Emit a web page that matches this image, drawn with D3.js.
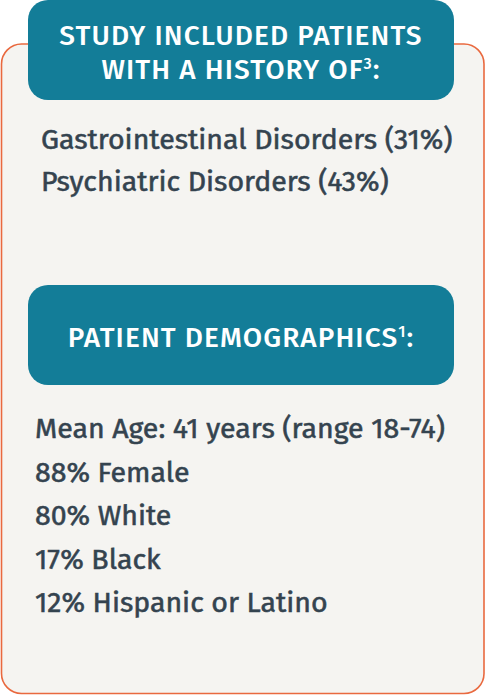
<!DOCTYPE html>
<html>
<head>
<meta charset="utf-8">
<script src="https://cdn.jsdelivr.net/npm/d3@7"></script>
<style>
  body { margin: 0; background: #ffffff; }
  svg { display: block; }
  text { font-family: "Fira Sans", Roboto, "Noto Sans", sans-serif; }
</style>
</head>
<body>
<svg id="card"></svg>
<script>
// data
const historyTitle = ['STUDY INCLUDED PATIENTS', 'WITH A HISTORY OF'];
const historyRef = '3';
const historyLabels = ['Gastrointestinal Disorders', 'Psychiatric Disorders'];
const historyPct = [31, 43];

const demoTitle = 'PATIENT DEMOGRAPHICS';
const demoRef = '1';
const meanAge = 41;
const ageRange = [18, 74];
const demoLabels = ['Female', 'White', 'Black', 'Hispanic or Latino'];
const demoPct = [88, 80, 17, 12];

var cardVars = {
    width: 489,
    height: 695,
    teal: '#137d98',
    orange: '#e9693f',
    panel: '#f5f4f1',
    ink: '#34434f',
    headSize: 28,
    headSpacing: 1.1,
    bodySize: 28.5
};

var svg = d3.select('#card')
    .attr('width', cardVars.width)
    .attr('height', cardVars.height);

// outer panel with orange border
svg.append('rect')
    .attr('x', 1.5)
    .attr('y', 44)
    .attr('width', 482.5)
    .attr('height', 649.5)
    .attr('rx', 20)
    .attr('fill', cardVars.panel)
    .attr('stroke', cardVars.orange)
    .attr('stroke-width', 1.6);

// header boxes
function header(y0, lines, ref) {
    svg.append('rect')
        .attr('x', 28)
        .attr('y', y0)
        .attr('width', 426)
        .attr('height', 100)
        .attr('rx', 20)
        .attr('fill', cardVars.teal);

    var lineY = d3.scalePoint()
        .domain(d3.range(lines.length))
        .range(lines.length > 1 ? [y0 + 45, y0 + 79] : [y0 + 62, y0 + 62]);

    var t = svg.append('g').selectAll('text')
        .data(lines)
        .join('text')
        .attr('x', 241)
        .attr('y', (d, i) => lineY(i))
        .attr('text-anchor', 'middle')
        .attr('fill', '#ffffff')
        .attr('font-size', cardVars.headSize)
        .attr('letter-spacing', cardVars.headSpacing)
        .attr('font-weight', 500);

    t.append('tspan').text(d => d);
    t.filter((d, i) => i === lines.length - 1)
        .call(s => {
            s.append('tspan')
                .attr('font-size', 16)
                .attr('dy', -10)
                .text(ref);
            s.append('tspan')
                .attr('dy', 10)
                .text(':');
        });
}

header(0, historyTitle, historyRef);
header(285, [demoTitle], demoRef);

// body text: regular weight thickened a little to look like a medium cut
function bodyText(sel) {
    sel.attr('fill', cardVars.ink)
        .attr('stroke', cardVars.ink)
        .attr('stroke-width', 0.55)
        .attr('font-size', cardVars.bodySize)
        .attr('font-weight', 400);
}

// history list
var historyY = d3.scalePoint()
    .domain(historyLabels)
    .range([149, 191]);

svg.append('g').selectAll('text')
    .data(historyLabels)
    .join('text')
    .attr('x', 41)
    .attr('y', d => historyY(d))
    .call(bodyText)
    .text((d, i) => d + ' (' + historyPct[i] + '%)');

// demographics list
var demoLines = ['Mean Age: ' + meanAge + ' years (range ' + ageRange[0] + '-' + ageRange[1] + ')']
    .concat(demoLabels.map((d, i) => demoPct[i] + '% ' + d));

var demoY = d3.scalePoint()
    .domain(d3.range(demoLines.length))
    .range([438, 612]);

svg.append('g').selectAll('text')
    .data(demoLines)
    .join('text')
    .attr('x', 35)
    .attr('y', (d, i) => demoY(i))
    .call(bodyText)
    .text(d => d);
</script>
</body>
</html>
